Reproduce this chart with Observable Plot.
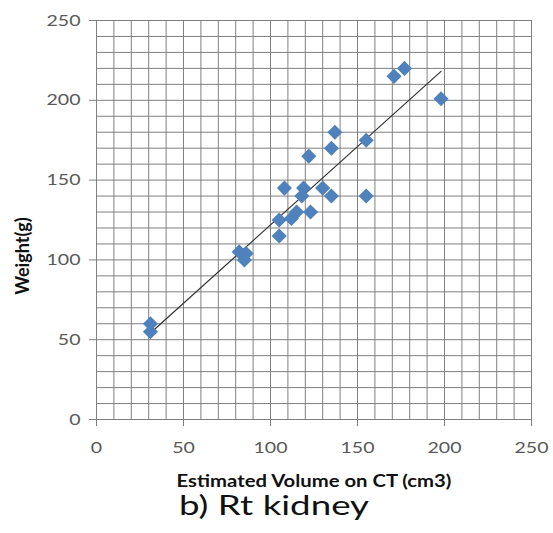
<!DOCTYPE html>
<html><head><meta charset="utf-8">
<script src="https://cdn.jsdelivr.net/npm/d3@7"></script>
<script src="https://cdn.jsdelivr.net/npm/@observablehq/plot@0.6"></script>
<style>
body{margin:0;background:#fff;font-family:Lato,sans-serif;}
#chart{position:absolute;left:0;top:0;}
#title{position:absolute;left:179px;top:489px;font-size:26px;line-height:normal;white-space:nowrap;color:#111;transform-origin:0 0;}
</style></head><body>
<div id="chart"></div>
<div id="title"><span id="titleSpan"></span></div>
<script>
// Data
const volume = [31, 31, 82, 86, 85, 105, 105, 108, 112, 115, 119, 118, 122, 123, 130, 135, 135, 137, 155, 155, 171, 177, 198];
const weight = [60, 55, 105, 104, 100, 115, 125, 145, 126, 130, 145, 140, 165, 130, 145, 140, 170, 180, 175, 140, 215, 220, 201];
const xTicks = [0, 50, 100, 150, 200, 250];
const yTicks = [0, 50, 100, 150, 200, 250];
const xLabel = ["Estimated Volume on CT (cm3)"];
const yLabel = ["Weight(g)"];
const titleText = "b) Rt kidney";
const gridStep = 10;

const data = volume.map((v, i) => ({volume: v, weight: weight[i]}));
const grid = d3.range(0, 251, gridStep);

const plot = Plot.plot({
  width: 553, height: 496,
  marginLeft: 96, marginRight: 22, marginTop: 20, marginBottom: 77,
  style: {fontFamily: "Lato, sans-serif", fontSize: "16px", color: "#595959", background: "transparent"},
  x: {domain: [0, 250]},
  y: {domain: [0, 250]},
  marks: [
    Plot.ruleX(grid, {stroke: "#808080", strokeWidth: 1}),
    Plot.ruleY(grid, {stroke: "#808080", strokeWidth: 1}),
    Plot.axisX(xTicks, {tickSize: 7, tickPadding: 15, label: null, stroke: "#808080"}),
    Plot.axisY(yTicks, {tickSize: 7, tickPadding: 9, label: null, stroke: "#808080"}),
    Plot.linearRegressionY(data, {x: "volume", y: "weight", stroke: "#333", strokeWidth: 1.2, ci: 0}),
    Plot.dot(data, {x: "volume", y: "weight", symbol: "diamond2", r: 6.8, fill: "#4F81BD", stroke: null}),
    Plot.text(xLabel, {text: d => d, frameAnchor: "bottom", dy: 62, textAnchor: "middle", lineAnchor: "middle", fontWeight: "bold", fontSize: 17, fill: "#111"}),
    Plot.text(yLabel, {text: d => d, frameAnchor: "left", dx: -73, dy: 36, rotate: -90, textAnchor: "middle", lineAnchor: "middle", fontWeight: "bold", fontSize: 18, fill: "#111"})
  ]
});
document.getElementById("chart").append(plot);

// horizontal stretch of text to mimic the wide rendering in the reference
function stretch(el, sx) {
  const t = el.getAttribute("transform") || "";
  el.setAttribute("transform", t + ` scale(${sx},1)`);
}
const tickTexts = plot.querySelectorAll('g[aria-label$="tick label"] text');
let w = 0;
tickTexts.forEach(t => { if (t.textContent === "250") w = Math.max(w, t.getComputedTextLength()); });
const tickSx = w ? 34 / w : 1.2;
tickTexts.forEach(t => stretch(t, tickSx));
plot.querySelectorAll('g[aria-label="text"] text').forEach(t => {
  if (t.textContent === xLabel[0]) stretch(t, 275 / t.getComputedTextLength());
});
const span = document.getElementById("titleSpan");
span.textContent = titleText;
const tw = span.getBoundingClientRect().width;
document.getElementById("title").style.transform = `scaleX(${190 / tw})`;
</script>
</body></html>
